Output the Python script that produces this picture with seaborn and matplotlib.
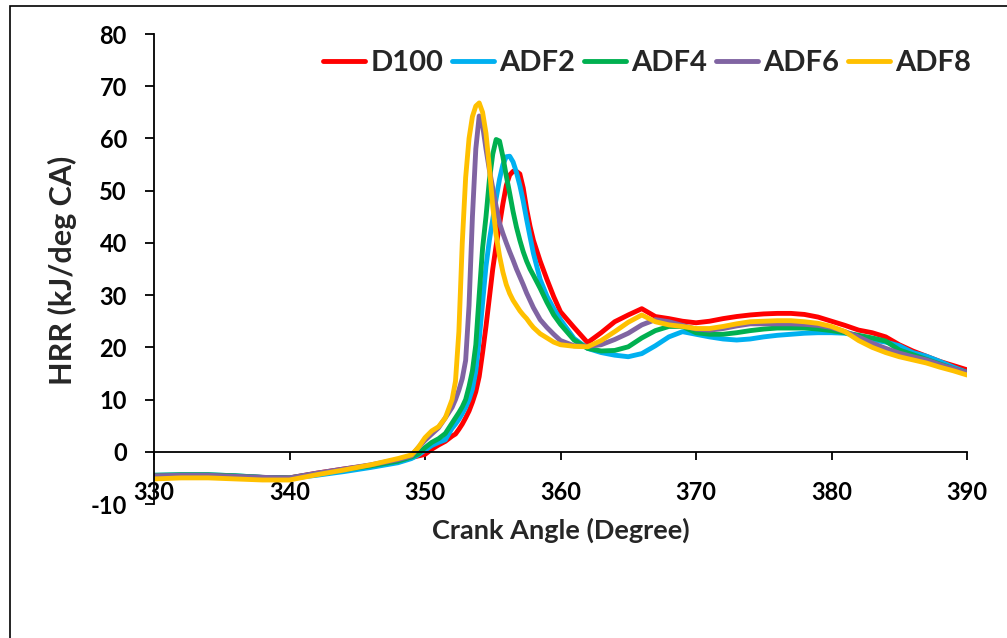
import matplotlib
matplotlib.use("Agg")
import matplotlib.pyplot as plt
from matplotlib.patches import Rectangle
import numpy as np
import pandas as pd
import seaborn as sns

# Crank angle samples (deg): coarse before ignition, fine through the premixed peak
crank_angle = [330, 332, 334, 336, 338, 340, 342, 344, 346, 348,
               349, 349.5, 350, 350.5, 351, 351.5,
               352, 352.25, 352.5, 352.75, 353, 353.25, 353.5, 353.75,
               354, 354.25, 354.5, 354.75, 355, 355.25, 355.5, 355.75,
               356, 356.25, 356.5, 356.75, 357, 357.25, 357.5, 357.75,
               358, 358.5, 359, 359.5, 360,
               361, 362, 363, 364, 365, 366, 367, 368, 369, 370,
               371, 372, 373, 374, 375, 376, 377, 378, 379, 380,
               381, 382, 383, 384, 385, 386, 387, 388, 389, 390]

# Heat release rate (kJ/deg CA) per fuel blend
hrr_d100 = [-4.6, -4.5, -4.5, -4.7, -4.9, -5.0, -4.1, -3.3, -2.6, -1.6,
            -1.1, -0.8, -0.5, 0.5, 1.3, 2.0,
            3.0, 3.4, 4.3, 5.3, 6.5, 7.8, 9.5, 11.5,
            14.4, 19.0, 24.0, 29.5, 35.0, 39.5, 43.5, 47.5,
            51.0, 53.0, 53.7, 53.7, 53.2, 50.5, 46.5, 43.2,
            40.5, 36.5, 33.0, 29.7, 26.8,
            23.8, 20.9, 22.8, 24.9, 26.2, 27.4, 25.9, 25.5, 25.0, 24.7,
            25.0, 25.5, 25.9, 26.2, 26.4, 26.5, 26.5, 26.3, 25.8, 25.0,
            24.2, 23.3, 22.8, 22.0, 20.5, 19.3, 18.3, 17.3, 16.5, 15.7]

hrr_adf2 = [-4.5, -4.4, -4.4, -4.6, -4.9, -5.1, -4.5, -3.8, -3.0, -2.1,
            -1.3, -0.6, 0.3, 1.2, 1.8, 2.3,
            4.5, 5.3, 6.2, 7.3, 8.5, 10.0, 12.0, 15.5,
            21.5, 28.5, 35.5, 40.5, 44.5, 48.5, 52.2, 55.0,
            56.5, 56.6, 55.5, 53.5, 51.0, 48.0, 44.5, 41.2,
            38.0, 33.0, 29.8, 27.4, 25.3,
            21.7, 19.8, 19.0, 18.5, 18.2, 18.8, 20.3, 22.0, 23.0, 22.5,
            22.0, 21.6, 21.4, 21.6, 22.0, 22.3, 22.5, 22.7, 22.8, 22.8,
            22.7, 22.2, 21.4, 21.0, 20.3, 19.0, 18.3, 17.3, 16.2, 15.2]

hrr_adf4 = [-4.5, -4.4, -4.4, -4.6, -4.9, -5.0, -4.2, -3.4, -2.7, -1.8,
            -1.0, -0.4, 0.8, 1.8, 2.5, 3.5,
            5.5, 6.5, 7.5, 8.6, 10.0, 12.5, 15.5, 20.5,
            30.0, 39.0, 45.0, 52.0, 57.0, 59.8, 59.5, 56.5,
            52.8, 49.5, 46.0, 43.0, 40.5, 38.3, 36.5, 35.0,
            33.8, 31.3, 28.6, 26.2, 24.4,
            21.4, 19.8, 19.3, 19.4, 20.1, 21.8, 23.2, 24.0, 24.0, 22.8,
            22.5, 22.5, 22.8, 23.2, 23.5, 23.7, 23.7, 23.7, 23.5, 23.2,
            22.8, 22.3, 21.8, 21.2, 19.5, 18.6, 17.7, 16.8, 15.9, 15.1]

hrr_adf6 = [-4.6, -4.5, -4.5, -4.7, -4.9, -5.0, -4.1, -3.3, -2.5, -1.5,
            -0.8, 0.8, 2.2, 3.4, 4.6, 6.5,
            8.5, 10.0, 11.8, 14.0, 17.5, 28.0, 45.0, 58.0,
            64.3, 62.5, 58.0, 54.0, 50.5, 47.0, 43.8, 41.8,
            40.0, 38.3, 36.7, 35.0, 33.5, 32.0, 30.4, 29.0,
            27.6, 25.3, 23.8, 22.5, 21.3,
            20.3, 20.2, 20.5, 21.5, 22.7, 24.3, 25.3, 24.9, 24.2, 23.5,
            23.3, 23.6, 24.1, 24.5, 24.5, 24.5, 24.5, 24.4, 24.2, 23.8,
            23.0, 22.0, 20.8, 19.8, 18.9, 18.2, 17.6, 16.7, 15.9, 15.1]

hrr_adf8 = [-5.2, -5.0, -5.0, -5.2, -5.4, -5.4, -4.4, -3.5, -2.5, -1.3,
            -0.6, 0.8, 2.7, 4.0, 4.8, 6.5,
            10.0, 13.5, 23.0, 40.0, 52.5, 60.0, 64.2, 66.2,
            66.8, 65.0, 61.0, 54.5, 47.0, 41.5, 37.5, 34.4,
            32.0, 30.3, 29.0, 28.0, 27.0, 26.2, 25.5, 24.6,
            23.8, 22.6, 21.8, 21.0, 20.5,
            20.2, 20.1, 21.3, 23.0, 24.8, 26.2, 24.9, 24.3, 24.0, 23.6,
            23.6, 24.0, 24.5, 24.9, 25.0, 25.1, 25.1, 24.9, 24.6, 24.0,
            23.0, 21.3, 20.0, 19.0, 18.2, 17.6, 17.0, 16.2, 15.5, 14.7]

blends = ["D100", "ADF2", "ADF4", "ADF6", "ADF8"]
series = [hrr_d100, hrr_adf2, hrr_adf4, hrr_adf6, hrr_adf8]
colors = ["#FF0000", "#00B0F0", "#00B050", "#8064A2", "#FFC000"]

x_ticks = [330, 340, 350, 360, 370, 380, 390]
y_ticks = [-10, 0, 10, 20, 30, 40, 50, 60, 70, 80]

df = pd.DataFrame({
    "Crank Angle": np.tile(crank_angle, len(blends)),
    "HRR": np.concatenate(series),
    "Fuel": np.repeat(blends, len(crank_angle)),
})

sns.set_style("white")
plt.rcParams["font.family"] = ["Lato", "DejaVu Sans"]
plt.rcParams["font.weight"] = "bold"
plt.rcParams["axes.unicode_minus"] = False

W, H = 1007, 638
fig = plt.figure(figsize=(W / 100, H / 100), dpi=100)
ax = fig.add_axes([154 / W, 1 - 504 / H, (967 - 154) / W, (504 - 34) / H])

sns.lineplot(data=df, x="Crank Angle", y="HRR", hue="Fuel", hue_order=blends,
             palette=colors, linewidth=3.5, ax=ax, sort=False, legend=True,
             solid_joinstyle="round", solid_capstyle="round")

ax.set_xlim(330, 390)
ax.set_ylim(-10, 80)
ax.set_xticks(x_ticks)
ax.set_yticks(y_ticks)

for side in ("top", "right"):
    ax.spines[side].set_visible(False)
ax.spines["bottom"].set_position(("data", 0))
for side in ("left", "bottom"):
    ax.spines[side].set_color("black")
    ax.spines[side].set_linewidth(1.3)

ax.tick_params(axis="y", direction="out", length=6.5, width=1.3, pad=13,
               labelsize=17, colors="black", left=True)
ax.tick_params(axis="x", direction="out", length=6, width=1.3, pad=15,
               labelsize=17, colors="black", bottom=True)
for lbl in ax.get_xticklabels() + ax.get_yticklabels():
    lbl.set_fontweight("bold")

ax.set_xlabel("")
ax.set_ylabel("")
fig.text(561 / W, 1 - 530 / H, "Crank Angle (Degree)", ha="center", va="center",
         fontsize=19.5, fontweight="bold")
fig.text(62 / W, 1 - 270 / H, "HRR (kJ/deg CA)", ha="center", va="center",
         rotation=90, fontsize=22, fontweight="bold")

handles, labels = ax.get_legend_handles_labels()
if ax.legend_ is not None:
    ax.legend_.remove()
leg = fig.legend(handles, labels, loc="center right",
                 bbox_to_anchor=(971 / W, 1 - 63 / H), bbox_transform=fig.transFigure,
                 ncol=5, frameon=False, borderpad=0, borderaxespad=0,
                 handlelength=1.45, handletextpad=0.17, columnspacing=0.3,
                 prop={"weight": "bold", "size": 21})
for line in leg.get_lines():
    line.set_linewidth(3.5)
    line.set_solid_capstyle("round")

# outer chart frame
fig.add_artist(Rectangle((9.5 / W, -0.2), 2.0, 1.2 - 5.5 / H, transform=fig.transFigure,
                         fill=False, edgecolor="black", linewidth=1.2))

fig.savefig("out.png", dpi=100)
